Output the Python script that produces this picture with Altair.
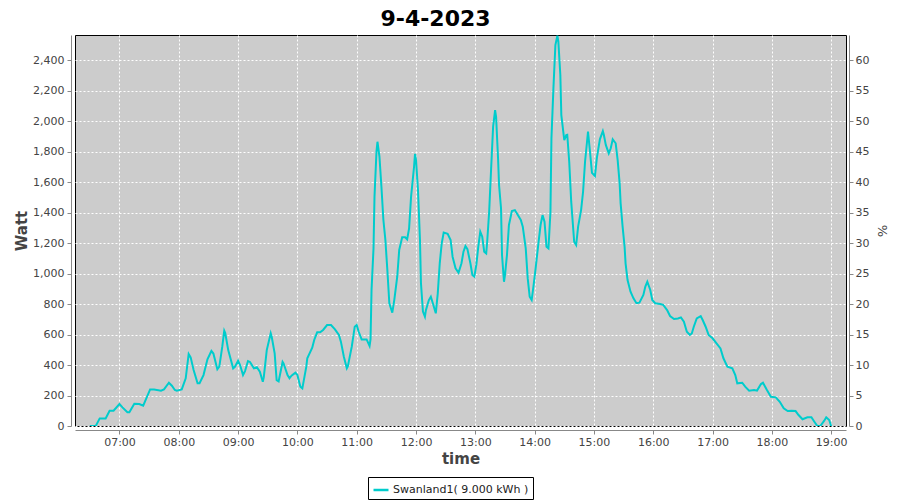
import altair as alt
import pandas as pd

series_name = "Swanland1( 9.000 kWh )"
chart_title = "9-4-2023"

times = [
    "06:30", "06:36", "06:40", "06:46", "06:50", "06:54", "07:00", "07:03", "07:08", "07:10",
    "07:15", "07:20", "07:24", "07:31", "07:35", "07:42", "07:45", "07:50", "07:53", "07:56",
    "07:58", "08:03", "08:07", "08:10", "08:12", "08:15", "08:19", "08:21", "08:25", "08:29",
    "08:33", "08:35", "08:39", "08:41", "08:44", "08:46", "08:47", "08:50", "08:55", "08:57",
    "09:00", "09:02", "09:05", "09:07", "09:10", "09:12", "09:16", "09:19", "09:22", "09:25",
    "09:26", "09:29", "09:33", "09:34", "09:37", "09:39", "09:41", "09:45", "09:46", "09:50",
    "09:52", "09:54", "09:58", "10:00", "10:03", "10:05", "10:09", "10:10", "10:15", "10:17",
    "10:20", "10:23", "10:26", "10:30", "10:34", "10:38", "10:42", "10:44", "10:47", "10:50",
    "10:51", "10:55", "10:58", "11:00", "11:02", "11:05", "11:10", "11:13", "11:14", "11:15",
    "11:17", "11:18", "11:20", "11:21", "11:23", "11:25", "11:27", "11:29", "11:31", "11:33",
    "11:36", "11:38", "11:41", "11:43", "11:46", "11:49", "11:51", "11:53", "11:55", "11:58",
    "11:59", "12:00", "12:02", "12:04", "12:05", "12:07", "12:09", "12:10", "12:13", "12:15",
    "12:17", "12:20", "12:22", "12:24", "12:26", "12:28", "12:32", "12:35", "12:37", "12:40",
    "12:43", "12:46", "12:48", "12:50", "12:52", "12:55", "12:57", "12:59", "13:01", "13:03",
    "13:05", "13:07", "13:09", "13:11", "13:12", "13:14", "13:16", "13:18", "13:20", "13:21",
    "13:23", "13:24", "13:26", "13:27", "13:29", "13:30", "13:32", "13:34", "13:37", "13:40",
    "13:43", "13:46", "13:48", "13:51", "13:53", "13:55", "13:57", "13:59", "14:01", "14:04",
    "14:06", "14:08", "14:10", "14:12", "14:14", "14:16", "14:17", "14:19", "14:21", "14:23",
    "14:24", "14:26", "14:27", "14:30", "14:32", "14:33", "14:35", "14:37", "14:40", "14:42",
    "14:44", "14:47", "14:49", "14:51", "14:53", "14:54", "14:56", "14:58", "15:01", "15:03",
    "15:06", "15:09", "15:10", "15:12", "15:15", "15:17", "15:19", "15:22", "15:24", "15:26",
    "15:27", "15:29", "15:31", "15:32", "15:34", "15:37", "15:40", "15:43", "15:46", "15:50",
    "15:52", "15:54", "15:57", "15:59", "16:02", "16:07", "16:10", "16:14", "16:17", "16:21",
    "16:25", "16:28", "16:31", "16:34", "16:37", "16:39", "16:41", "16:44", "16:48", "16:50",
    "16:53", "16:56", "17:00", "17:04", "17:08", "17:11", "17:15", "17:20", "17:23", "17:25",
    "17:30", "17:33", "17:37", "17:42", "17:45", "17:49", "17:51", "17:55", "17:59", "18:04",
    "18:08", "18:12", "18:16", "18:20", "18:24", "18:27", "18:31", "18:36", "18:40", "18:43",
    "18:46", "18:49", "18:53", "18:55", "18:58", "19:00",
]

watts = [
    0, 0, 50, 50, 100, 100, 144, 122, 90, 90,
    146, 144, 133, 240, 240, 232, 240, 284, 264, 236,
    232, 240, 313, 472, 450, 367, 280, 280, 334, 437,
    492, 475, 372, 390, 520, 625, 610, 498, 378, 390,
    428, 400, 334, 360, 426, 420, 378, 385, 356, 290,
    320, 498, 608, 585, 476, 300, 292, 420, 410, 334,
    313, 330, 350, 335, 258, 247, 389, 444, 513, 564,
    614, 614, 630, 662, 662, 634, 597, 553, 454, 378,
    390, 520, 651, 662, 618, 568, 568, 525, 570, 892,
    1165, 1504, 1799, 1864, 1766, 1569, 1351, 1220, 1023, 805,
    743, 826, 979, 1154, 1237, 1237, 1224, 1296, 1504, 1700,
    1784, 1744, 1548, 1220, 936, 750, 717, 760, 826, 848,
    805, 739, 870, 1067, 1198, 1268, 1260, 1220, 1110, 1034,
    1005, 1067, 1143, 1180, 1160, 1067, 990, 979, 1056, 1176,
    1274, 1241, 1143, 1132, 1208, 1405, 1690, 1963, 2072, 2028,
    1755, 1580, 1428, 1121, 946, 990, 1121, 1318, 1410, 1416,
    1383, 1351, 1307, 1165, 968, 848, 826, 925, 1034, 1208,
    1318, 1383, 1340, 1176, 1165, 1405, 1886, 2214, 2498, 2560,
    2520, 2302, 2039, 1875, 1908, 1910, 1733, 1471, 1208, 1187,
    1307, 1416, 1536, 1733, 1864, 1930, 1799, 1660, 1640, 1760,
    1880, 1934, 1910, 1843, 1788, 1821, 1880, 1854, 1744, 1591,
    1460, 1307, 1176, 1067, 957, 881, 837, 805, 809, 859,
    914, 946, 892, 826, 805, 800, 795, 760, 721, 702,
    705, 712, 684, 618, 597, 607, 651, 706, 721, 695,
    651, 597, 575, 542, 509, 444, 389, 378, 334, 280,
    284, 258, 232, 236, 232, 275, 284, 236, 192, 188,
    159, 116, 98, 100, 98, 72, 44, 57, 57, 28,
    0, 0, 35, 57, 39, 0,
]

watt_ticks = list(range(0, 2401, 200))
pct_ticks = list(range(0, 61, 5))
hour_ticks = list(range(7, 20))

df = pd.DataFrame({
    "time": ["2023-04-09T" + t + ":00" for t in times],
    "watt": watts,
    "series": [series_name] * len(times),
})

FONT = "DejaVu Sans"
LINE_COLOR = "#00CCCC"

x_axis = alt.Axis(
    values=[alt.DateTime(year=2023, month=4, date=9, hours=h) for h in hour_ticks],
    format="%H:%M", title="time", offset=4,
    grid=True, gridColor="white", gridDash=[2, 2], gridOpacity=1, gridWidth=1,
    domainColor="#888888", tickColor="#888888", tickSize=4,
    labelColor="#444444", labelFont=FONT, labelFontSize=11, labelPadding=2,
    titleColor="#444444", titleFont=FONT, titleFontSize=15, titleFontWeight="bold",
    titlePadding=4,
)

y_axis = alt.Axis(
    values=watt_ticks, format=",d", title="Watt", offset=4,
    grid=True, gridColor="white", gridDash=[2, 2], gridOpacity=1, gridWidth=1,
    domainColor="#888888", tickColor="#888888", tickSize=4,
    labelColor="#444444", labelFont=FONT, labelFontSize=11, labelPadding=3,
    titleColor="#444444", titleFont=FONT, titleFontSize=15, titleFontWeight="bold",
    titlePadding=3,
)

line = alt.Chart(df).mark_line(strokeWidth=2, clip=True).encode(
    x=alt.X("time:T", axis=x_axis,
            scale=alt.Scale(domain=[
                alt.DateTime(year=2023, month=4, date=9, hours=6, minutes=15),
                alt.DateTime(year=2023, month=4, date=9, hours=19, minutes=15),
            ])),
    y=alt.Y("watt:Q", axis=y_axis, scale=alt.Scale(domain=[0, 2564], nice=False)),
    color=alt.Color("series:N", scale=alt.Scale(range=[LINE_COLOR]),
                    legend=alt.Legend(
                        title=None, orient="none", legendX=293, legendY=442,
                        strokeColor="black", fillColor="white", padding=4,
                        symbolType="stroke", symbolSize=225, symbolStrokeWidth=2.5,
                        labelFont=FONT, labelFontSize=11, labelColor="#222222",
                        labelOffset=3,
                    )),
)

pct = alt.Chart(df).mark_point(opacity=0).encode(
    y=alt.YDatum(0, type="quantitative",
                 scale=alt.Scale(domain=[0, 64.1], nice=False),
                 axis=alt.Axis(
                     orient="right", values=pct_ticks, title="%", offset=3, grid=False,
                     domainColor="#888888", tickColor="#888888", tickSize=4,
                     labelColor="#444444", labelFont=FONT, labelFontSize=11, labelPadding=2,
                     titleColor="#444444", titleFont=FONT, titleFontSize=13,
                     titleFontWeight="normal", titlePadding=6,
                 )),
)

chart = alt.layer(line, pct).resolve_scale(y="independent").properties(
    width=771, height=391,
    title=alt.TitleParams(chart_title, font=FONT, fontSize=22, fontWeight="bold",
                          color="black", anchor="middle", offset=4, dx=-25),
    autosize=alt.AutoSizeParams(type="none"),
    padding={"left": 67, "top": 27, "right": 46, "bottom": 74},
    background="white",
).configure_view(
    fill="#CCCCCC", stroke="black", strokeWidth=1,
)

chart.save("out.html", embed_options={"renderer": "svg", "actions": False})
